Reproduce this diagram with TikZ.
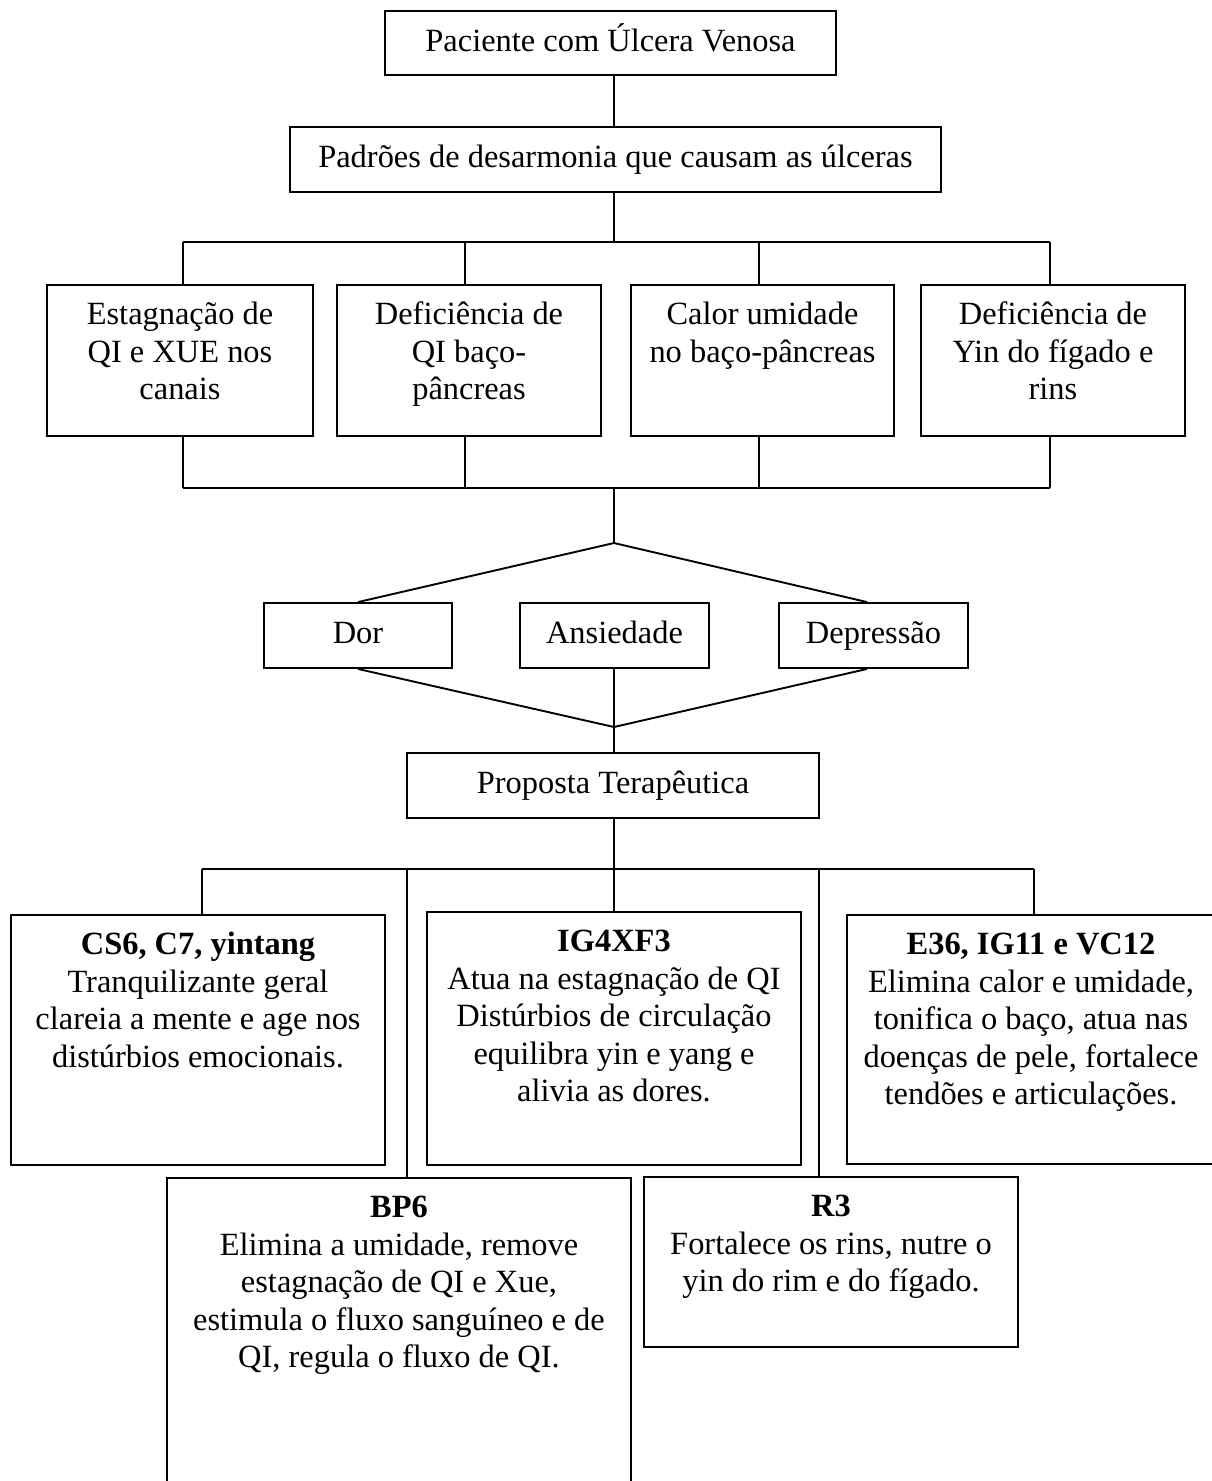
\documentclass[tikz,border=0pt]{standalone}
\usepackage{fontspec}
\setmainfont{Liberation Serif}
\usetikzlibrary{fit}
\begin{document}
\begin{tikzpicture}[x=0.37pt,y=-0.37pt,
  box/.style={draw, line width=0.7pt, inner sep=0pt},
  txt/.style={inner sep=0pt, align=center, anchor=north, font=\fontsize{12}{13.9}\selectfont},
  one/.style={inner sep=0pt, font=\fontsize{12}{13.9}\selectfont},
  ln/.style={line width=0.7pt}]
\useasboundingbox (0,0) rectangle (1212,1481);
% top boxes
\node[box, fit={(385,11)(836,75)}] (pac) {};
\node[one] (tpac) at (pac.center) {\strut Paciente com Úlcera Venosa};
\node[box, fit={(290,127)(941,192)}] (pad) {};
\node[one] (tpad) at (pad.center) {\strut Padrões de desarmonia que causam as úlceras};
% four pattern boxes
\node[box, fit={(47,285)(313,436)}] (ba) {};
\node[box, fit={(337,285)(601,436)}] (bb) {};
\node[box, fit={(631,285)(894,436)}] (bc) {};
\node[box, fit={(921,285)(1185,436)}] (bd) {};
\node[txt] (ta) at ([yshift=-5.1pt]ba.north) {\strut Estagnação de\\QI e XUE nos\\canais};
\node[txt] (tb) at ([yshift=-5.1pt]bb.north) {\strut Deficiência de\\QI baço-\\pâncreas};
\node[txt] (tc) at ([yshift=-5.1pt]bc.north) {\strut Calor umidade\\no baço-pâncreas};
\node[txt] (td) at ([yshift=-5.1pt]bd.north) {\strut Deficiência de\\Yin do fígado e\\rins};
% symptoms
\node[box, fit={(264,603)(452,668)}] (dor) {};
\node[one] (tdor) at (dor.center) {\strut Dor};
\node[box, fit={(520,603)(709,668)}] (ans) {};
\node[one] (tans) at (ans.center) {\strut Ansiedade};
\node[box, fit={(779,603)(968,668)}] (dep) {};
\node[one] (tdep) at (dep.center) {\strut Depressão};
% proposta
\node[box, fit={(407,753)(819,818)}] (pro) {};
\node[one] (tpro) at (pro.center) {\strut Proposta Terapêutica};
% treatment boxes
\node[box, fit={(11,915)(385,1165)}] (cs) {};
\node[box, fit={(427,912)(801,1165)}] (ig) {};
\node[box, fit={(847,915)(1215,1164)}] (es) {};
\node[box, fit={(167,1178)(631,1500)}] (bp) {};
\node[box, fit={(644,1177)(1018,1347)}] (rr) {};
\node[txt] (tcs) at ([yshift=-5.1pt]cs.north) {\strut\textbf{CS6, C7, yintang}\\Tranquilizante geral\\clareia a mente e age nos\\distúrbios emocionais.};
\node[txt] (tig) at ([yshift=-5.1pt]ig.north) {\strut\textbf{IG4XF3}\\Atua na estagnação de QI\\Distúrbios de circulação\\equilibra yin e yang e\\alivia as dores.};
\node[txt] (tes) at ([yshift=-5.1pt]es.north) {\strut\textbf{E36, IG11 e VC12}\\Elimina calor e umidade,\\tonifica o baço, atua nas\\doenças de pele, fortalece\\tendões e articulações.};
\node[txt] (tbp) at ([yshift=-5.1pt]bp.north) {\strut\textbf{BP6}\\Elimina a umidade, remove\\estagnação de QI e Xue,\\estimula o fluxo sanguíneo e de\\QI, regula o fluxo de QI.};
\node[txt] (trr) at ([yshift=-5.1pt]rr.north) {\strut\textbf{R3}\\Fortalece os rins, nutre o\\yin do rim e do fígado.};
% connector coordinates
\coordinate (cx) at (614,0);
\coordinate (j1) at (614,242);
\coordinate (j1a) at (183,242);
\coordinate (j1b) at (465,242);
\coordinate (j1c) at (759,242);
\coordinate (j1d) at (1050,242);
\coordinate (j2) at (614,488);
\coordinate (j2a) at (183,488);
\coordinate (j2b) at (465,488);
\coordinate (j2c) at (759,488);
\coordinate (j2d) at (1050,488);
\coordinate (apex) at (614,543);
\coordinate (low) at (614,727);
\coordinate (j3) at (614,869);
\coordinate (j3a) at (202,869);
\coordinate (j3b) at (407,869);
\coordinate (j3d) at (819,869);
\coordinate (j3e) at (1034,869);
% connectors
\draw[ln] (cx |- pac.south) -- (cx |- pad.north);
\draw[ln] (cx |- pad.south) -- (j1);
\draw[ln] (j1a) -- (j1d);
\draw[ln] (j1a) -- (j1a |- ba.north);
\draw[ln] (j1b) -- (j1b |- bb.north);
\draw[ln] (j1c) -- (j1c |- bc.north);
\draw[ln] (j1d) -- (j1d |- bd.north);
\draw[ln] (j2a |- ba.south) -- (j2a);
\draw[ln] (j2b |- bb.south) -- (j2b);
\draw[ln] (j2c |- bc.south) -- (j2c);
\draw[ln] (j2d |- bd.south) -- (j2d);
\draw[ln] (j2a) -- (j2d);
\draw[ln] (j2) -- (apex);
\draw[ln] (dor.north) -- (apex) -- ([xshift=-2.4pt]dep.north);
\draw[ln] (dor.south) -- (low);
\draw[ln] (cx |- ans.south) -- (low);
\draw[ln] ([xshift=-2.4pt]dep.south) -- (low);
\draw[ln] (low) -- (cx |- pro.north);
\draw[ln] (cx |- pro.south) -- (j3);
\draw[ln] (j3a) -- (j3e);
\draw[ln] (j3a) -- (j3a |- cs.north);
\draw[ln] (j3b) -- (j3b |- bp.north);
\draw[ln] (j3) -- (j3 |- ig.north);
\draw[ln] (j3d) -- (j3d |- rr.north);
\draw[ln] (j3e) -- (j3e |- es.north);
\end{tikzpicture}
\end{document}
